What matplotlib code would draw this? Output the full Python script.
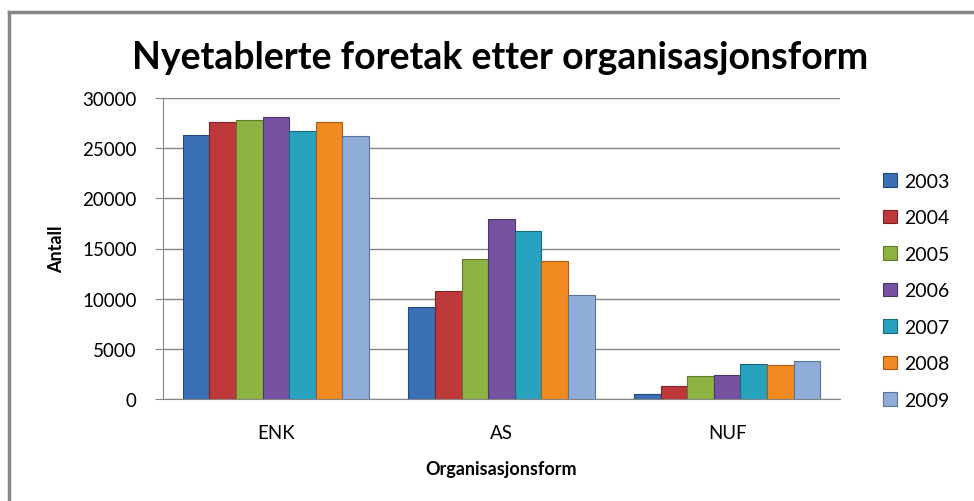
import numpy as np
import matplotlib
matplotlib.use("Agg")
import matplotlib.pyplot as plt
from matplotlib.lines import Line2D

plt.rcParams['font.family'] = ['Lato', 'DejaVu Sans']

categories = ["ENK", "AS", "NUF"]
years = ["2003", "2004", "2005", "2006", "2007", "2008", "2009"]
values = {
    "2003": [26300, 9200, 450],
    "2004": [27650, 10750, 1300],
    "2005": [27850, 13950, 2300],
    "2006": [28150, 17950, 2400],
    "2007": [26700, 16700, 3450],
    "2008": [27600, 13800, 3350],
    "2009": [26250, 10350, 3750],
}
colours = ["#3C70B4", "#BE3A3A", "#8DB443", "#7653A0", "#27A2BF", "#F28A22", "#8FADD8"]
edges = ["#24497A", "#7E2323", "#5E7A2A", "#4D356B", "#17697E", "#A85A12", "#5B7396"]

W, H = 974, 502
fig = plt.figure(figsize=(W / 100, H / 100), dpi=100)

# outer chart frame (top and left only visible)
fig.add_artist(Line2D([9 / W, 9 / W], [0, 1 - 13 / H], color="#868686", lw=2.5, transform=fig.transFigure))
fig.add_artist(Line2D([9 / W, 1], [1 - 13 / H, 1 - 13 / H], color="#868686", lw=2.5, transform=fig.transFigure))

ax = fig.add_axes([163 / W, 1 - 400 / H, 677 / W, 301 / H])

x = np.arange(len(categories))
bw = 0.825 / len(years)
for i, yr in enumerate(years):
    offs = (i - (len(years) - 1) / 2) * bw
    ax.bar(x + offs, values[yr], bw, color=colours[i], edgecolor=edges[i], linewidth=0.8,
           label=yr, zorder=3)

ax.set_xlim(-0.5, 2.5)
ax.set_ylim(0, 30000)
ax.set_yticks(range(0, 30001, 5000))
ax.set_xticks(x)
ax.set_xticklabels(categories, fontsize=13.5)
ax.tick_params(axis='y', labelsize=13.5, length=6, color="#868686", pad=13)
ax.tick_params(axis='x', length=0, pad=18)
ax.grid(axis='y', color="#868686", lw=1, zorder=0)
for s in ["top", "right"]:
    ax.spines[s].set_visible(False)
ax.spines["left"].set_color("#868686")
ax.spines["bottom"].set_color("#868686")

ax.set_ylabel("Antall", fontsize=13, fontweight="bold", labelpad=12)
ax.set_xlabel("Organisasjonsform", fontsize=13, fontweight="bold", labelpad=14)

fig.text(500 / W, 1 - 58 / H, "Nyetablerte foretak etter organisasjonsform",
         fontsize=27, fontweight="bold", ha="center", va="center")

ax.legend(loc="upper left", bbox_to_anchor=(883 / W, 1 - 174 / H), bbox_transform=fig.transFigure,
          frameon=False, fontsize=14, handlelength=0.7, handleheight=0.7,
          handletextpad=0.4, labelspacing=1.0, borderaxespad=0, borderpad=0)

fig.savefig("out.png", dpi=100)
